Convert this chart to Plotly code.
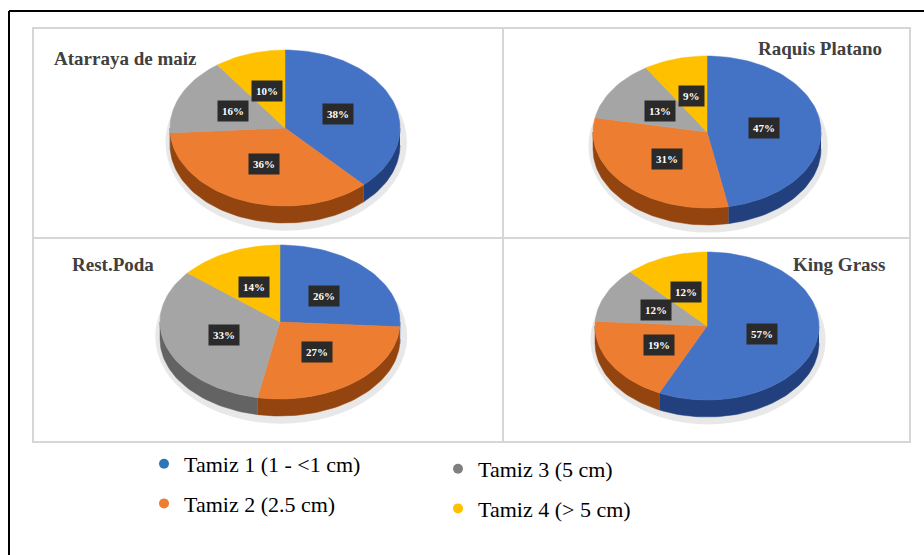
import numpy as np
import plotly.graph_objects as go

# ---------------- data ----------------
categories = ["Tamiz 1 (1 - <1 cm)", "Tamiz 2 (2.5 cm)", "Tamiz 3 (5 cm)", "Tamiz 4 (> 5 cm)"]
materials = ["Atarraya de maiz", "Raquis Platano", "Rest.Poda", "King Grass"]
atarraya_de_maiz = [38, 36, 16, 10]
raquis_platano = [47, 31, 13, 9]
rest_poda = [26, 27, 33, 14]
king_grass = [57, 19, 12, 12]
series = [atarraya_de_maiz, raquis_platano, rest_poda, king_grass]

# ---------------- style ----------------
W, H = 924, 555
top_colors = ["#4472C4", "#ED7D31", "#A5A5A5", "#FFC000"]
side_colors = ["#23407E", "#94440F", "#636363", "#B38600"]
legend_colors = ["#2E75B6", "#ED7D31", "#808080", "#FFC000"]
SERIF = "Liberation Serif, Times New Roman, serif"

# panel layout in pixels: box (x0, y0, x1, y1), pie centre, radii, depth, title
panels = [
    dict(box=(33, 28, 503, 238), c=(285, 128), r=(115, 78), d=17, t=(52, 58, "left")),
    dict(box=(503, 28, 910, 238), c=(707, 132), r=(114, 76), d=17, t=(884, 49, "right")),
    dict(box=(33, 238, 503, 442), c=(280, 322), r=(120, 77), d=17, t=(70, 264, "left")),
    dict(box=(503, 238, 910, 442), c=(707, 326), r=(112, 74), d=17, t=(887, 264, "right")),
]


def px(x):
    return x / W


def py(y):
    return 1 - y / H


def arc(a0, a1):
    t = np.radians(np.linspace(a0, a1, max(int(abs(a1 - a0) / 2) + 2, 4)))
    return np.sin(t), np.cos(t)


fig = go.Figure()
annotations = []
shapes = []

for k, (name, vals, p) in enumerate(zip(materials, series, panels)):
    ax = "" if k == 0 else str(k + 1)
    xref, yref = "x" + ax, "y" + ax
    x0, y0, x1, y1 = p["box"]
    cx, cy = p["c"]
    rx, ry = p["r"]
    dep = p["d"] / ry
    fig.update_layout(**{
        "xaxis" + ax: dict(domain=[px(x0), px(x1)], range=[(x0 - cx) / rx, (x1 - cx) / rx],
                           visible=False, fixedrange=True, anchor=yref),
        "yaxis" + ax: dict(domain=[py(y1), py(y0)], range=[(cy - y1) / ry, (cy - y0) / ry],
                           visible=False, fixedrange=True, anchor=xref),
    })
    # soft shadow
    shapes.append(dict(type="circle", xref=xref, yref=yref, x0=-1.04, x1=1.06,
                       y0=-1 - dep - 0.10, y1=0.95, fillcolor="rgba(0,0,0,0.09)",
                       line=dict(width=0), layer="below"))
    cum = np.concatenate([[0], np.cumsum(vals)]) / sum(vals) * 360
    # side walls
    for i in range(len(vals)):
        s0, s1 = max(cum[i], 90), min(cum[i + 1], 270)
        if s1 > s0:
            ax_, ay_ = arc(s0, s1)
            xs = np.concatenate([ax_, ax_[::-1]])
            ys = np.concatenate([ay_, ay_[::-1] - dep])
            fig.add_trace(go.Scatter(x=xs, y=ys, xaxis=xref, yaxis=yref, mode="lines",
                                     fill="toself", fillcolor=side_colors[i],
                                     line=dict(width=0.5, color=side_colors[i]),
                                     hoverinfo="skip", showlegend=False))
    # top faces
    for i in range(len(vals)):
        ax_, ay_ = arc(cum[i], cum[i + 1])
        xs = np.concatenate([[0], ax_, [0]])
        ys = np.concatenate([[0], ay_, [0]])
        fig.add_trace(go.Scatter(x=xs, y=ys, xaxis=xref, yaxis=yref, mode="lines",
                                 fill="toself", fillcolor=top_colors[i],
                                 line=dict(width=0.5, color=top_colors[i]),
                                 name=categories[i], hoverinfo="name", showlegend=False))
        mid = np.radians((cum[i] + cum[i + 1]) / 2)
        annotations.append(dict(x=0.5 * np.sin(mid), y=0.5 * np.cos(mid), xref=xref, yref=yref,
                                text=f"<b>{vals[i]}%</b>", showarrow=False,
                                font=dict(family=SERIF, size=11, color="white"),
                                bgcolor="#2A2A2A", borderpad=4))
    tx, ty, al = p["t"]
    annotations.append(dict(x=px(tx), y=py(ty), xref="paper", yref="paper",
                            text=f"<b>{name}</b>", showarrow=False, xanchor=al, yanchor="middle",
                            font=dict(family=SERIF, size=19, color="#404040")))

# legend entries
legend_ids = ["legend", "legend", "legend2", "legend2"]
for i, cat in enumerate(categories):
    fig.add_trace(go.Scatter(x=[None], y=[None], mode="markers", name=cat,
                             marker=dict(symbol="circle", size=10, color=legend_colors[i]),
                             legend=legend_ids[i], legendgroup=f"g{i}", showlegend=True))

# grid of panels
grid = "#D6D6D6"
shapes += [
    dict(type="rect", xref="paper", yref="paper", x0=px(33), x1=px(910), y0=py(442), y1=py(28),
         line=dict(color=grid, width=2), layer="below"),
    dict(type="line", xref="paper", yref="paper", x0=px(503), x1=px(503), y0=py(442), y1=py(28),
         line=dict(color=grid, width=2), layer="below"),
    dict(type="line", xref="paper", yref="paper", x0=px(33), x1=px(910), y0=py(238), y1=py(238),
         line=dict(color=grid, width=2), layer="below"),
    # outer frame (top and left edges)
    dict(type="line", xref="paper", yref="paper", x0=px(9), x1=1, y0=py(11), y1=py(11),
         line=dict(color="black", width=2)),
    dict(type="line", xref="paper", yref="paper", x0=px(9), x1=px(9), y0=py(11), y1=0,
         line=dict(color="black", width=2)),
]

leg_style = dict(font=dict(family=SERIF, size=22, color="black"), bgcolor="white",
                 tracegroupgap=8, itemclick=False, itemdoubleclick=False,
                 xanchor="left", yanchor="top", orientation="v")

fig.update_layout(
    width=W, height=H, margin=dict(l=0, r=0, t=0, b=0),
    paper_bgcolor="white", plot_bgcolor="rgba(0,0,0,0)",
    showlegend=True,
    legend=dict(x=px(144), y=py(443), **leg_style),
    legend2=dict(x=px(438), y=py(448), **leg_style),
    annotations=annotations, shapes=shapes,
)

fig.write_html("out.html")
